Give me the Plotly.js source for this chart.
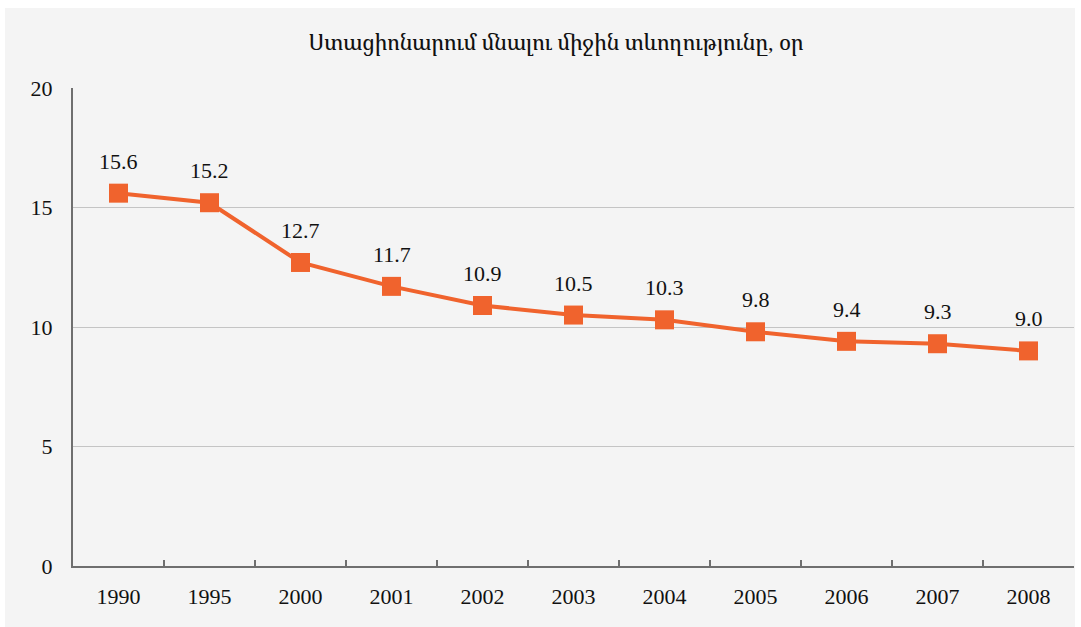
<!DOCTYPE html>
<html><head><meta charset="utf-8">
<script src="https://cdn.plot.ly/plotly-3.0.1.min.js"></script>
<style>html,body{margin:0;padding:0;background:#fff;}#chart{position:absolute;left:5px;top:8px;width:1070px;height:619px;}</style>
</head><body><div id="chart"></div>
<script>
const categories = ["1990","1995","2000","2001","2002","2003","2004","2005","2006","2007","2008"];
const values = [15.6,15.2,12.7,11.7,10.9,10.5,10.3,9.8,9.4,9.3,9.0];
const labels = values.map(v => v.toFixed(1));
const titleText = "Ստացիոնարում մնալու միջին տևողությունը, օր";
const yTicks = [0,5,10,15,20];
const fontFam = "Liberation Serif, Times New Roman, serif";
const titleFam = "Liberation Serif, Noto Serif Armenian, serif";
const orange = "#f0632d";

const ann = categories.map((c, i) => ({
  x: i, y: values[i], xref: "x", yref: "y", text: labels[i], showarrow: false,
  yshift: 32, yanchor: "middle", xanchor: "center",
  font: {family: fontFam, size: 22, color: "#111"}
}));

Plotly.newPlot("chart", [{
  type: "scatter", mode: "lines+markers",
  x: categories, y: values,
  line: {color: orange, width: 4},
  marker: {symbol: "square", size: 19, color: orange},
  cliponaxis: false, hoverinfo: "skip"
}], {
  width: 1070, height: 619,
  paper_bgcolor: "#f4f4f4", plot_bgcolor: "#f4f4f4",
  margin: {l: 68, r: 1, t: 80, b: 61},
  showlegend: false,
  annotations: ann,
  title: {text: titleText, font: {family: titleFam, size: 22, color: "#111"}, x: 0.515, xanchor: "center", y: 0.944, yanchor: "middle"},
  xaxis: {type: "category", range: [-0.5, 10.5], showline: true, linecolor: "#6f6f6f", linewidth: 2,
    ticks: "inside", tickson: "boundaries", ticklen: 6, tickcolor: "#6f6f6f", tickwidth: 1.5,
    showgrid: false, zeroline: false, ticklabelstandoff: 10,
    tickfont: {family: fontFam, size: 22, color: "#111"}},
  yaxis: {range: [0, 20], tickvals: yTicks, showline: true, linecolor: "#6f6f6f", linewidth: 2,
    ticks: "", showgrid: true, gridcolor: "#c4c4c4", gridwidth: 1, zeroline: false,
    ticklabelstandoff: 14,
    tickfont: {family: fontFam, size: 22, color: "#111"}}
}, {displayModeBar: false, staticPlot: true});
</script></body></html>
